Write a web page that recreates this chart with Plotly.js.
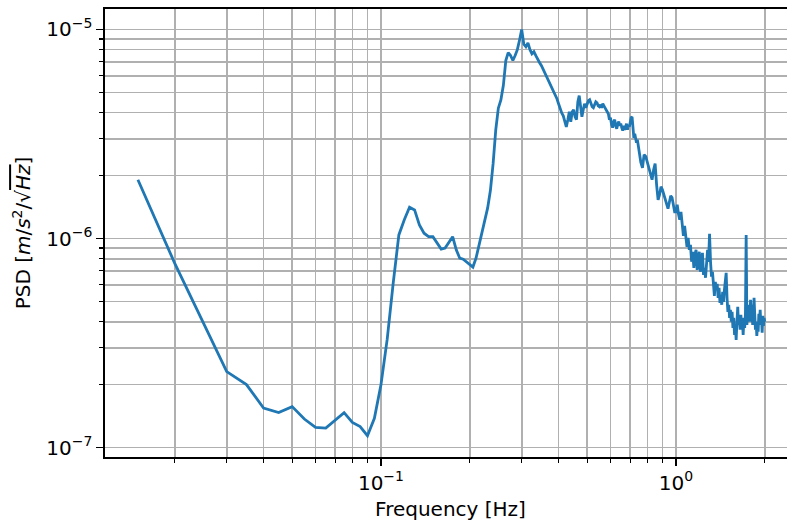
<!DOCTYPE html>
<html>
<head>
<meta charset="utf-8">
<script src="https://cdn.plot.ly/plotly-3.0.1.min.js"></script>
<style>
html, body { margin: 0; padding: 0; overflow: hidden; background: #fff; }
#chart { width: 800px; height: 521px; }
</style>
</head>
<body>
<div id="chart"></div>
<script>
// Frequency [Hz]
const freq = [
  0.015, 0.02, 0.025, 0.03, 0.035, 0.04, 0.045, 0.05, 0.055, 0.06,
  0.065, 0.07, 0.075, 0.08, 0.085, 0.09, 0.095, 0.1, 0.105, 0.11,
  0.115, 0.12, 0.125, 0.13, 0.135, 0.14, 0.145, 0.15, 0.155, 0.16,
  0.165, 0.17, 0.175, 0.18, 0.185, 0.19, 0.195, 0.2, 0.205, 0.21,
  0.215, 0.22, 0.225, 0.23, 0.235, 0.24, 0.245, 0.25, 0.255, 0.26,
  0.265, 0.27, 0.275, 0.28, 0.285, 0.29, 0.295, 0.3, 0.305, 0.31,
  0.315, 0.32, 0.325, 0.33, 0.335, 0.34, 0.345, 0.35, 0.355, 0.36,
  0.365, 0.37, 0.375, 0.38, 0.385, 0.39, 0.395,
  0.4, 0.405, 0.41, 0.415, 0.42, 0.425, 0.43, 0.435, 0.44, 0.445,
  0.45, 0.455, 0.46, 0.465, 0.47, 0.475, 0.48, 0.485, 0.49, 0.495,
  0.5, 0.505, 0.51, 0.515, 0.52, 0.525, 0.53, 0.535, 0.54, 0.545,
  0.55, 0.555, 0.56, 0.565, 0.57, 0.575, 0.58, 0.585, 0.59, 0.595,
  0.6, 0.605, 0.61, 0.615, 0.62, 0.625, 0.63, 0.635, 0.64, 0.645,
  0.65, 0.655, 0.66, 0.665, 0.67, 0.675, 0.68, 0.685, 0.69, 0.695,
  0.7, 0.705, 0.71, 0.715, 0.72, 0.725, 0.73, 0.735, 0.74, 0.745,
  0.75,
  0.76, 0.77, 0.78, 0.79, 0.8, 0.81, 0.82, 0.83, 0.84, 0.85,
  0.86, 0.87, 0.88, 0.89, 0.9, 0.91, 0.92, 0.93, 0.94, 0.95,
  0.96, 0.97, 0.98, 0.99,
  1.0, 1.01, 1.02, 1.03, 1.04, 1.05, 1.06, 1.07, 1.08, 1.09,
  1.1, 1.11, 1.12, 1.13, 1.14, 1.15, 1.16, 1.17, 1.18, 1.19,
  1.2, 1.21, 1.22, 1.23, 1.24, 1.25, 1.26, 1.27, 1.28, 1.29,
  1.3, 1.31, 1.32, 1.33, 1.34, 1.35, 1.36, 1.37, 1.38, 1.39,
  1.4, 1.41, 1.42, 1.43, 1.44, 1.45, 1.46, 1.47, 1.48, 1.49,
  1.5, 1.51, 1.52, 1.53, 1.54, 1.55, 1.56, 1.57, 1.58, 1.59,
  1.6, 1.61, 1.62, 1.63, 1.64, 1.65, 1.66, 1.67, 1.68, 1.69,
  1.7, 1.71, 1.72, 1.73, 1.74, 1.75, 1.76, 1.77, 1.78, 1.79,
  1.8, 1.81, 1.82, 1.83, 1.84, 1.85, 1.86, 1.87, 1.88, 1.89,
  1.9, 1.91, 1.92, 1.93, 1.94, 1.95, 1.96, 1.97, 1.98, 1.99,
  2.0
];
// PSD [m/s^2/sqrt(Hz)]
const psd = [
  1.91e-6, 7.6e-7, 3.95e-7, 2.31e-7, 2.0e-7, 1.545e-7, 1.47e-7, 1.57e-7, 1.37e-7, 1.25e-7,
  1.24e-7, 1.35e-7, 1.47e-7, 1.32e-7, 1.26e-7, 1.14e-7, 1.38e-7, 2.0e-7, 3.3e-7, 6.1e-7,
  1.04e-6, 1.23e-6, 1.41e-6, 1.37e-6, 1.16e-6, 1.06e-6, 1.02e-6, 1.02e-6, 9.57e-7, 8.9e-7,
  9.0e-7, 9.6e-7, 1.02e-6, 8.83e-7, 8.05e-7, 7.96e-7, 7.72e-7, 7.5e-7, 7.3e-7, 8.05e-7,
  9.3e-7, 1.08e-6, 1.2e-6, 1.4e-6, 1.7e-6, 2.28e-6, 3.31e-6, 4.2e-6, 4.6e-6, 5.4e-6,
  7.1e-6, 7.75e-6, 7.5e-6, 7.1e-6, 7.5e-6, 8.0e-6, 8.9e-6, 1.0e-5, 8.5e-6, 8.26e-6,
  8.63e-6, 8.0e-6, 7.65e-6, 7.83e-6, 7.49e-6, 7.16e-6, 6.93e-6, 6.7e-6, 6.41e-6, 6.14e-6,
  5.94e-6, 5.68e-6, 5.5e-6, 5.21e-6, 4.98e-6, 4.87e-6, 4.66e-6,
  4.41e-6, 4.13e-6, 3.99e-6, 3.86e-6, 3.62e-6, 3.42e-6, 3.7e-6, 4.04e-6, 3.62e-6, 4.04e-6,
  4.13e-6, 3.82e-6, 3.7e-6, 4.51e-6, 4.82e-6, 4.22e-6, 3.82e-6, 4.13e-6, 4.41e-6, 4.22e-6,
  4.41e-6, 4.56e-6, 4.61e-6, 4.41e-6, 4.27e-6, 4.22e-6, 4.41e-6, 4.51e-6, 4.46e-6, 4.31e-6,
  4.27e-6, 4.36e-6, 4.22e-6, 4.41e-6, 4.31e-6, 4.22e-6, 4.13e-6, 4.04e-6, 3.95e-6, 3.7e-6,
  3.78e-6, 3.5e-6, 3.39e-6, 3.62e-6, 3.7e-6, 3.46e-6, 3.35e-6, 3.54e-6, 3.62e-6, 3.46e-6,
  3.54e-6, 3.39e-6, 3.28e-6, 3.46e-6, 3.31e-6, 3.42e-6, 3.54e-6, 3.31e-6, 3.5e-6, 3.42e-6,
  3.62e-6, 3.78e-6, 3.82e-6, 3.39e-6, 3.03e-6, 3.17e-6, 2.97e-6, 2.87e-6, 2.97e-6, 2.75e-6,
  2.66e-6,
  2.32e-6, 2.18e-6, 2.52e-6, 2.47e-6, 2.3e-6, 2.14e-6, 2.0e-6, 1.91e-6, 2.13e-6, 2.28e-6,
  1.8e-6, 1.53e-6, 1.62e-6, 1.77e-6, 1.71e-6, 1.62e-6, 1.53e-6, 1.45e-6, 1.39e-6, 1.49e-6,
  1.6e-6, 1.57e-6, 1.43e-6, 1.34e-6,
  1.34e-6, 1.45e-6, 1.31e-6, 1.23e-6, 1.34e-6, 1.125e-6, 1.03e-6, 1.15e-6, 9.86e-7, 9.13e-7,
  1.008e-6, 8.83e-7, 9.33e-7, 7.74e-7, 8.64e-7, 7.24e-7, 8.36e-7, 8.83e-7, 7.08e-7, 7.91e-7,
  8.64e-7, 6.93e-7, 7.74e-7, 8.54e-7, 6.7e-7, 7.24e-7, 6.49e-7, 7.74e-7, 8.83e-7, 7.74e-7,
  1.053e-6, 7.74e-7, 6.56e-7, 6.93e-7, 6.0e-7, 5.32e-7, 6.2e-7, 5.68e-7, 6.07e-7, 5.2e-7,
  5.81e-7, 4.92e-7, 5.38e-7, 4.82e-7, 5.56e-7, 4.98e-7, 5.68e-7, 6.34e-7, 6.85e-7, 5.2e-7,
  4.46e-7, 4.82e-7, 4.17e-7, 4.56e-7, 4.0e-7, 4.46e-7, 3.74e-7, 4.17e-7, 3.46e-7, 3.86e-7,
  3.27e-7, 4.0e-7, 4.71e-7, 3.86e-7, 4.17e-7, 3.66e-7, 4.31e-7, 3.74e-7, 4.08e-7, 3.46e-7,
  4.17e-7, 3.74e-7, 4.31e-7, 1.04e-6, 3.86e-7, 4.56e-7, 4.08e-7, 4.82e-7, 4.0e-7, 5.09e-7,
  4.17e-7, 4.82e-7, 3.86e-7, 4.46e-7, 5.2e-7, 4.31e-7, 3.66e-7, 4.0e-7, 3.42e-7, 3.82e-7,
  3.58e-7, 4.36e-7, 4.0e-7, 4.56e-7, 3.86e-7, 4.17e-7, 3.54e-7, 4.27e-7, 3.82e-7, 4.17e-7,
  4.0e-7
];

const xTickVals = [0.1, 1];
const xTickText = ['10<sup>\u22121</sup>', '10<sup>0</sup>'];
const xMinorVals = [0.02, 0.03, 0.04, 0.05, 0.06, 0.07, 0.08, 0.09,
                    0.2, 0.3, 0.4, 0.5, 0.6, 0.7, 0.8, 0.9, 2];
const yTickVals = [1e-7, 1e-6, 1e-5];
const yTickText = ['10<sup>\u22127</sup>', '10<sup>\u22126</sup>', '10<sup>\u22125</sup>'];
const yMinorVals = [2e-7, 3e-7, 4e-7, 5e-7, 6e-7, 7e-7, 8e-7, 9e-7,
                    2e-6, 3e-6, 4e-6, 5e-6, 6e-6, 7e-6, 8e-6, 9e-6];

const xTitle = 'Frequency [Hz]';
const yTitle = "PSD [<i>m</i>/<i>s</i><sup>2</sup>/\u221A<span style='text-decoration:overline'><i>Hz</i></span>]";

const grid = '#b0b0b0';

const trace = {
  x: freq, y: psd, type: 'scatter', mode: 'lines',
  line: { color: '#1f77b4', width: 2.8 },
  hoverinfo: 'skip'
};

const layout = {
  width: 800, height: 521,
  margin: { l: 105, r: 4, t: 9, b: 64 },
  paper_bgcolor: '#fff', plot_bgcolor: '#fff',
  showlegend: false,
  font: { family: 'DejaVu Sans', size: 20, color: '#000' },
  xaxis: {
    type: 'log', range: [-1.9355, 0.407],
    tickmode: 'array', tickvals: xTickVals, ticktext: xTickText,
    ticks: 'outside', ticklen: 7, tickwidth: 1.6, tickcolor: '#000',
    showline: true, linecolor: '#000', linewidth: 1.6, mirror: true,
    showgrid: true, gridcolor: grid, gridwidth: 1.6, zeroline: false,
    minor: { tickmode: 'array', tickvals: xMinorVals, ticks: 'outside', ticklen: 4,
             tickwidth: 1.2, tickcolor: '#000', showgrid: true, gridcolor: grid, gridwidth: 1.6 },
    title: { text: xTitle, standoff: 8, font: { size: 20 } },
    automargin: false
  },
  yaxis: {
    type: 'log', range: [-7.045, -4.9024],
    tickmode: 'array', tickvals: yTickVals, ticktext: yTickText,
    ticks: 'outside', ticklen: 7, tickwidth: 1.6, tickcolor: '#000',
    showline: true, linecolor: '#000', linewidth: 1.6,
    showgrid: true, gridcolor: grid, gridwidth: 1.6, zeroline: false,
    minor: { tickmode: 'array', tickvals: yMinorVals, ticks: 'outside', ticklen: 4,
             tickwidth: 1.2, tickcolor: '#000', showgrid: true, gridcolor: grid, gridwidth: 1.6 },
    title: { text: yTitle, standoff: 10, font: { size: 20 } },
    automargin: false
  }
};

Plotly.newPlot('chart', [trace], layout, { displayModeBar: false, staticPlot: true });
</script>
</body>
</html>
